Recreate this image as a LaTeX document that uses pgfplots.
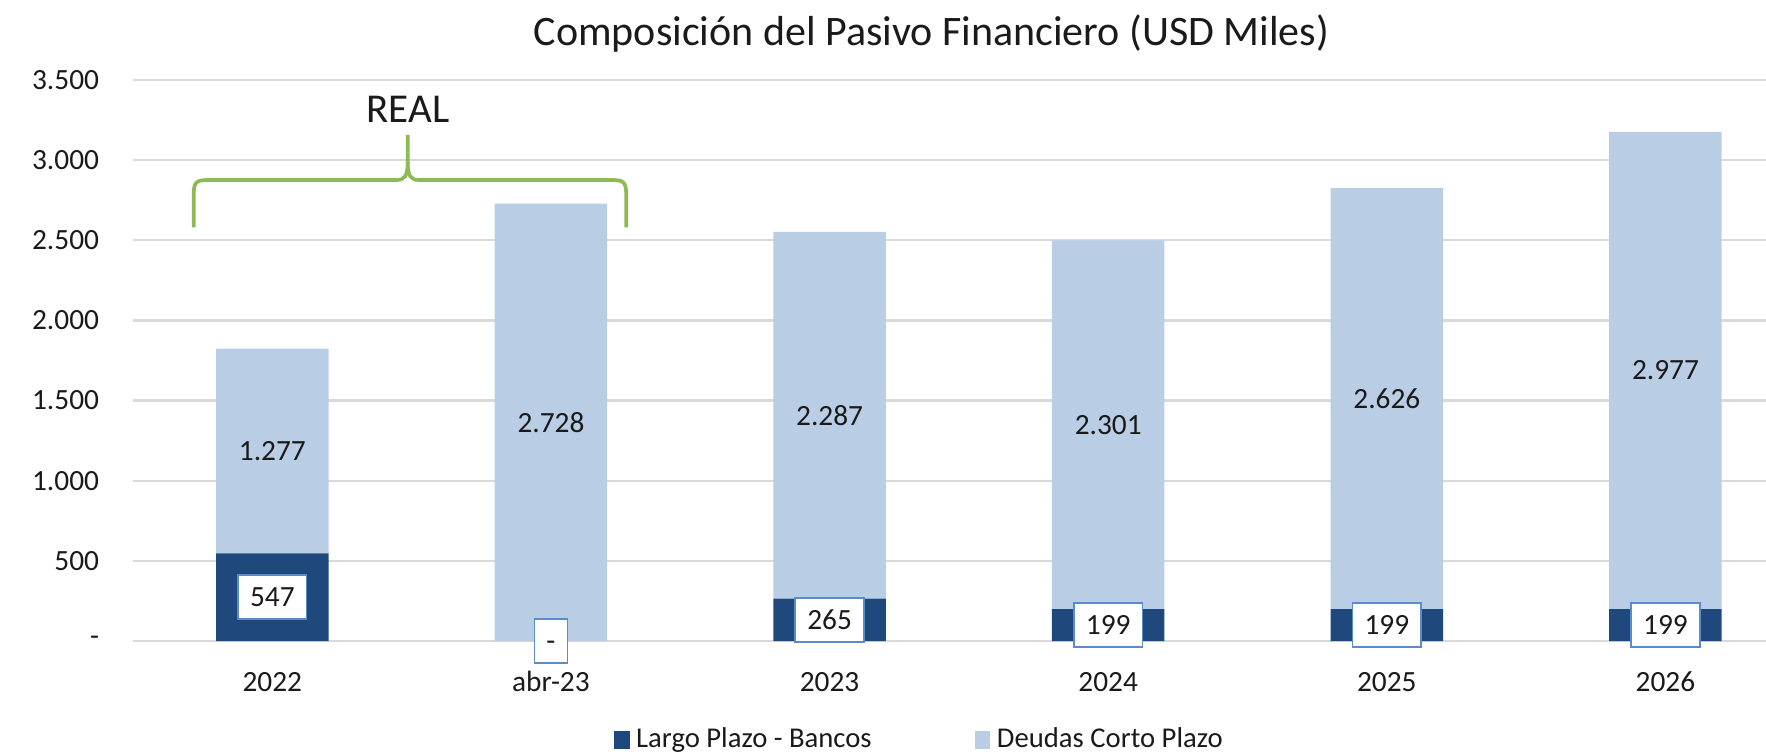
\documentclass[border=0pt]{standalone}
\usepackage{fontspec}
\setmainfont{Carlito}
\usepackage{pgfplots}
\pgfplotsset{compat=1.18}
\definecolor{darkblue}{HTML}{1F497D}
\definecolor{lightblue}{HTML}{B9CDE5}
\definecolor{gridgray}{HTML}{D9D9D9}
\definecolor{boxblue}{HTML}{5B8BC9}
\definecolor{bracegreen}{HTML}{8DBA52}
\definecolor{txt}{HTML}{1A1A1A}
\pgfplotsset{
  mylegend/.style={legend image code/.code={\fill[##1] (0bp,-2.7bp) rectangle (4.6bp,2.7bp);}},
  common/.style={
    at={(39.9bp,33.9bp)}, anchor=south west,
    scale only axis, width=489.9bp, height=168.3bp,
    xmin=-0.5, xmax=5.361, ymin=0, ymax=3500, clip=false,
  }
}
\begin{document}
\begin{tikzpicture}
\useasboundingbox (0,0) rectangle (529.8bp,226.2bp);
\begin{axis}[
  common,
  ybar stacked, bar width=0.404,
  xtick={0,1,2,3,4,5}, xticklabels={2022,abr-23,2023,2024,2025,2026},
  ytick={0,500,1000,1500,2000,2500,3000,3500},
  yticklabels={-,500,1.000,1.500,2.000,2.500,3.000,3.500},
  ymajorgrids, grid style={gridgray, line width=0.7bp},
  axis line style={draw=none}, major tick length=0pt,
  tick label style={font=\fontsize{8.8bp}{10bp}\selectfont, text=txt},
  xticklabel style={inner sep=0pt, anchor=base, yshift=-15bp},
  yticklabel style={inner sep=0pt, anchor=east, xshift=-10bp},
  legend style={at={(0.483,-0.176)}, anchor=center, draw=none, fill=none,
    font=\fontsize{8.6bp}{10bp}\selectfont, text=txt, legend columns=2,
    /tikz/every even column/.append style={column sep=29bp}},
  legend cell align=left,
]
\addplot[fill=darkblue, draw=none, mylegend] coordinates {(0,547) (1,0) (2,265) (3,199) (4,199) (5,199)};
\addlegendentry{Largo Plazo - Bancos}
\addplot[fill=lightblue, draw=none, mylegend] coordinates {(0,1277) (1,2728) (2,2287) (3,2301) (4,2626) (5,2977)};
\addlegendentry{Deudas Corto Plazo}

\draw[bracegreen, line width=1.1bp]
  (axis cs:-0.282,2581) -- (axis cs:-0.282,2790)
  .. controls (axis cs:-0.282,2860) and (axis cs:-0.272,2876) .. (axis cs:-0.235,2876)
  -- (axis cs:0.445,2876)
  .. controls (axis cs:0.475,2876) and (axis cs:0.486,2900) .. (axis cs:0.486,2990)
  -- (axis cs:0.486,3157);
\draw[bracegreen, line width=1.1bp]
  (axis cs:1.270,2581) -- (axis cs:1.270,2790)
  .. controls (axis cs:1.270,2860) and (axis cs:1.260,2876) .. (axis cs:1.223,2876)
  -- (axis cs:0.527,2876)
  .. controls (axis cs:0.497,2876) and (axis cs:0.486,2900) .. (axis cs:0.486,2990);
\node[font=\fontsize{12.3bp}{14bp}\selectfont, text=txt] at (axis cs:0.487,3319) {REAL};
\node[font=\fontsize{12.6bp}{15bp}\selectfont, text=txt] at (rel axis cs:0.489,1.082) {Composición del Pasivo Financiero (USD Miles)};
\end{axis}

\begin{axis}[common, hide axis]
\addplot[draw=none, nodes near coords, point meta=explicit symbolic,
  every node near coord/.append style={anchor=center, font=\fontsize{8.8bp}{10bp}\selectfont, text=txt,
    fill=white, draw=boxblue, line width=0.5bp, inner xsep=3.6bp, inner ysep=3.3bp,
    text height=6.2bp, text depth=0.4bp}]
  table[meta=lab, row sep=\\] {
  x y lab\\
  0 273.5 547\\
  1 0 -\\
  2 132.5 265\\
  3 99.5 199\\
  4 99.5 199\\
  5 99.5 199\\
};
\addplot[draw=none, nodes near coords, point meta=explicit symbolic,
  every node near coord/.append style={anchor=center, font=\fontsize{8.8bp}{10bp}\selectfont, text=txt}]
  table[meta=lab, row sep=\\] {
  x y lab\\
  0 1185.5 1.277\\
  1 1364 2.728\\
  2 1408.5 2.287\\
  3 1349.5 2.301\\
  4 1512 2.626\\
  5 1687.5 2.977\\
};
\end{axis}
\end{tikzpicture}
\end{document}
